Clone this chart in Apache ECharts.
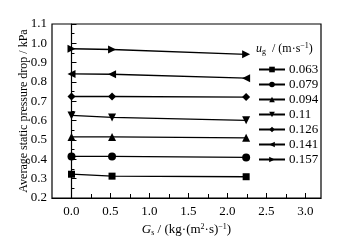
<!DOCTYPE html>
<html><head><meta charset="utf-8">
<script src="https://cdn.jsdelivr.net/npm/echarts@6/dist/echarts.min.js"></script>
<style>html,body{margin:0;padding:0;background:#fff}#c{width:339px;height:242px}</style>
</head><body><div id="c"></div>
<script>
var gs = [0, 0.52, 2.24];
var ugNames = ['0.063', '0.079', '0.094', '0.11', '0.126', '0.141', '0.157'];
var s063 = [0.323, 0.313, 0.310];
var s079 = [0.415, 0.415, 0.410];
var s094 = [0.516, 0.516, 0.511];
var s011 = [0.627, 0.617, 0.602];
var s126 = [0.725, 0.725, 0.722];
var s141 = [0.842, 0.840, 0.820];
var s157 = [0.972, 0.968, 0.943];
var xTicks = [0, 0.5, 1.0, 1.5, 2.0, 2.5, 3.0];
var xMinor = [0.25, 0.75, 1.25, 1.75, 2.25, 2.75];

var allData = [s063, s079, s094, s011, s126, s141, s157];
var symbols = ['rect', 'circle', 'triangle', 'triangle', 'diamond', 'triangle', 'triangle'];
var rots = [0, 0, 0, 180, 0, 90, -90];
var sizes = [7, 8, 8, 8, 8, 8, 8];
var font = 'Liberation Serif';

var series = allData.map(function (d, i) {
  return {
    name: ugNames[i], type: 'line',
    data: d.map(function (v, j) { return [gs[j], v]; }),
    symbol: symbols[i], symbolRotate: rots[i], symbolSize: sizes[i],
    showSymbol: true,
    lineStyle: { color: '#000', width: 1.3 },
    itemStyle: { color: '#000' },
    emphasis: { disabled: true },
    animation: false
  };
});

var chart = echarts.init(document.getElementById('c'));
chart.setOption({
  animation: false,
  grid: { left: 52, right: 18, top: 24, bottom: 41, show: true, borderColor: '#000', borderWidth: 1.2 },
  xAxis: [{
    type: 'value', min: -0.25, max: 3.2,
    axisLine: { lineStyle: { color: '#000', width: 1.2 } },
    axisTick: { inside: true, length: 5, customValues: xTicks, lineStyle: { color: '#000' } },
    axisLabel: { customValues: xTicks, color: '#000', fontFamily: font, fontSize: 13, margin: 7,
      formatter: function (v) { return v.toFixed(1); } },
    splitLine: { show: false },
    name: '{i|G}{sub|s}{t| / (kg·(m}{sup|2}{t|·s)}{sup|−1}{t|)}',
    nameLocation: 'middle', nameGap: 25, nameMoveOverlap: false,
    nameTextStyle: { rich: {
      i: { fontFamily: font, fontStyle: 'italic', fontSize: 13, color: '#000' },
      sub: { fontFamily: font, fontSize: 8, color: '#000', verticalAlign: 'bottom', padding: [6, 0, 0, 0] },
      sup: { fontFamily: font, fontSize: 8, color: '#000', verticalAlign: 'top', padding: [0, 0, 6, 0] },
      t: { fontFamily: font, fontSize: 13, color: '#000' }
    } }
  }, {
    type: 'value', min: -0.25, max: 3.2, position: 'bottom',
    axisLine: { show: false },
    axisTick: { inside: true, length: 4, customValues: xMinor, lineStyle: { color: '#000' } },
    axisLabel: { show: false }, splitLine: { show: false }
  }],
  yAxis: {
    type: 'value', min: 0.2, max: 1.1, interval: 0.1,
    axisLine: { show: true, lineStyle: { color: '#000', width: 1.2 } },
    axisTick: { show: true, inside: true, length: 5, lineStyle: { color: '#000' } },
    minorTick: { show: true, splitNumber: 2, length: 3, lineStyle: { color: '#000' } },
    axisLabel: { color: '#000', fontFamily: font, fontSize: 13, margin: 5,
      formatter: function (v) { return v.toFixed(1); } },
    splitLine: { show: false },
    name: 'Average static pressure drop / kPa',
    nameLocation: 'middle', nameGap: 22, nameMoveOverlap: false,
    nameTextStyle: { fontFamily: font, fontSize: 12, color: '#000' }
  },
  legend: {
    orient: 'vertical', left: 253, top: 58, itemGap: 2, itemWidth: 26, itemHeight: 7,
    textStyle: { fontFamily: font, fontSize: 13, color: '#000', padding: [0, 0, 0, -1] },
    data: ugNames
  },
  graphic: [{
    type: 'text', left: 256, top: 42,
    style: {
      text: '{i|u}{sub|g}{t|  / (m·s}{sup|−1}{t|)}',
      rich: {
        i: { fontFamily: font, fontStyle: 'italic', fontSize: 12, fill: '#000' },
        sub: { fontFamily: font, fontSize: 8, fill: '#000', verticalAlign: 'bottom', padding: [6, 0, 0, 0] },
        sup: { fontFamily: font, fontSize: 8, fill: '#000', verticalAlign: 'top', padding: [0, 0, 6, 0] },
        t: { fontFamily: font, fontSize: 12, fill: '#000' }
      }
    }
  }],
  series: series
});
</script></body></html>
